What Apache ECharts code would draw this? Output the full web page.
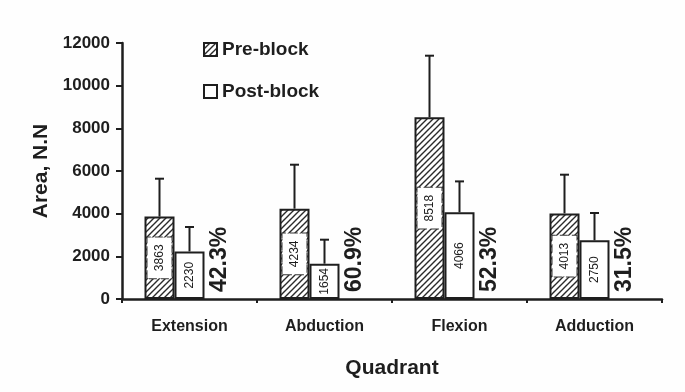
<!DOCTYPE html>
<html>
<head>
<meta charset="utf-8">
<script src="https://cdn.jsdelivr.net/npm/echarts@6/dist/echarts.min.js"></script>
<style>
html,body{margin:0;padding:0;background:#fefefe;}
#chart{width:685px;height:392px;}
</style>
</head>
<body>
<div id="chart"></div>
<script>
var categories = ['Extension', 'Abduction', 'Flexion', 'Adduction'];
var preBlock = [3863, 4234, 8518, 4013];
var postBlock = [2230, 1654, 4066, 2750];
var preSD = [1776, 2061, 2887, 1814];
var postSD = [1145, 1126, 1447, 1281];
var reductionLabels = ['42.3%', '60.9%', '52.3%', '31.5%'];
var yTicks = { min: 0, max: 12000, interval: 2000 };

var BAR_W = 30;
var INK = '#1e1e1e';
var FONT = 'Liberation Sans, Arial, sans-serif';

function hatch() {
  var c = document.createElement('canvas');
  c.width = 6; c.height = 6;
  var g = c.getContext('2d');
  g.fillStyle = '#ffffff';
  g.fillRect(0, 0, 6, 6);
  g.strokeStyle = '#2a2a2a';
  g.lineWidth = 1.4;
  g.beginPath();
  g.moveTo(-1, 7); g.lineTo(7, -1);
  g.moveTo(-1, 1); g.lineTo(1, -1);
  g.moveTo(5, 7); g.lineTo(7, 5);
  g.stroke();
  return c;
}

function errSeries(vals, sds, offset) {
  return {
    type: 'custom',
    z: 5,
    silent: true,
    data: vals.map(function (v, i) { return [i, v, v + sds[i]]; }),
    encode: { x: 0, y: [1, 2] },
    renderItem: function (params, api) {
      var ci = api.value(0);
      var b = api.coord([ci, api.value(1)]);
      var t = api.coord([ci, api.value(2)]);
      var x = b[0] + offset;
      var st = { stroke: INK, lineWidth: 2 };
      return {
        type: 'group',
        children: [
          { type: 'line', shape: { x1: x, y1: b[1], x2: x, y2: t[1] }, style: st },
          { type: 'line', shape: { x1: x - 4.5, y1: t[1], x2: x + 4.5, y2: t[1] }, style: st }
        ]
      };
    }
  };
}

var chart = echarts.init(document.getElementById('chart'), null, { renderer: 'canvas' });
var hatchColor = { image: hatch(), repeat: 'repeat' };

chart.setOption({
  backgroundColor: '#fefefe',
  animation: false,
  textStyle: { fontFamily: FONT, color: INK },
  grid: { left: 122, right: 23, top: 43, bottom: 93 },
  legend: {
    data: ['Pre-block', 'Post-block'],
    orient: 'vertical',
    left: 198,
    top: 35,
    itemWidth: 13,
    itemHeight: 13,
    itemGap: 23,
    icon: 'rect',
    textStyle: { fontFamily: FONT, fontSize: 19, fontWeight: 'bold', color: INK }
  },
  xAxis: {
    type: 'category',
    data: categories,
    name: 'Quadrant',
    nameLocation: 'middle',
    nameGap: 59,
    nameTextStyle: { fontFamily: FONT, fontSize: 21, fontWeight: 'bold', color: INK },
    axisLine: { lineStyle: { color: INK, width: 2.5 } },
    axisTick: { show: true, length: 4, interval: 0, lineStyle: { color: INK, width: 2 } },
    axisLabel: { margin: 20, fontFamily: FONT, fontSize: 16, fontWeight: 'bold', color: INK, interval: 0 }
  },
  yAxis: {
    type: 'value',
    min: yTicks.min,
    max: yTicks.max,
    interval: yTicks.interval,
    name: 'Area, N.N',
    nameLocation: 'middle',
    nameGap: 67,
    nameTextStyle: { fontFamily: FONT, fontSize: 21, fontWeight: 'bold', color: INK },
    axisLine: { show: true, lineStyle: { color: INK, width: 2.5 } },
    axisTick: { show: true, length: 6, lineStyle: { color: INK, width: 2 } },
    axisLabel: {
      margin: 12, fontFamily: FONT, fontSize: 17, fontWeight: 'bold', color: INK,
      formatter: function (v) { return String(v); }
    },
    splitLine: { show: false }
  },
  series: [
    {
      name: 'Pre-block',
      type: 'bar',
      barWidth: BAR_W,
      barGap: '0%',
      data: preBlock,
      itemStyle: { color: hatchColor, borderColor: INK, borderWidth: 2 },
      label: {
        show: true,
        position: 'inside',
        rotate: 90,
        fontFamily: FONT,
        fontSize: 12,
        lineHeight: 12,
        color: INK,
        backgroundColor: '#ffffff',
        borderColor: '#333',
        borderWidth: 1,
        borderType: 'dashed',
        padding: [6, 7]
      }
    },
    {
      name: 'Post-block',
      type: 'bar',
      barWidth: BAR_W,
      barGap: '0%',
      data: postBlock,
      itemStyle: { color: '#ffffff', borderColor: INK, borderWidth: 2 },
      label: {
        show: true,
        position: 'inside',
        rotate: 90,
        fontFamily: FONT,
        fontSize: 12,
        color: INK
      }
    },
    {
      name: 'Reduction',
      type: 'bar',
      barWidth: BAR_W,
      barGap: '0%',
      silent: true,
      data: reductionLabels.map(function () { return 0; }),
      itemStyle: { color: 'rgba(0,0,0,0)' },
      label: {
        show: true,
        position: 'insideBottom',
        distance: 7,
        rotate: 90,
        align: 'left',
        verticalAlign: 'middle',
        fontFamily: FONT,
        fontSize: 23,
        fontWeight: 'bold',
        color: INK,
        formatter: function (p) { return reductionLabels[p.dataIndex]; }
      }
    },
    errSeries(preBlock, preSD, -BAR_W),
    errSeries(postBlock, postSD, 0)
  ]
});
</script>
</body>
</html>
